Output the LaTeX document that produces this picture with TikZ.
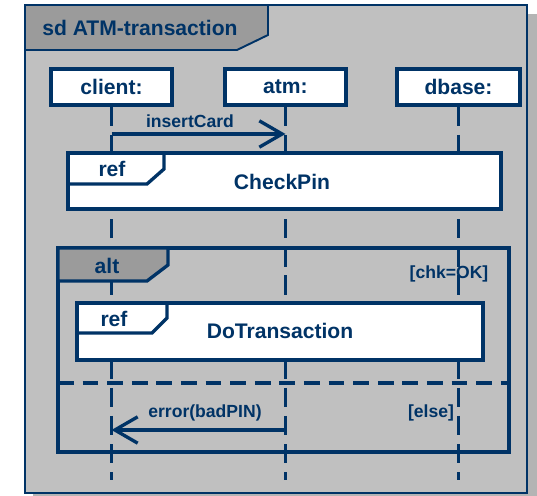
\documentclass[tikz,border=0pt]{standalone}
\usepackage{fontspec}
\setmainfont{Liberation Sans}
\usetikzlibrary{arrows.meta}
\definecolor{umlblue}{RGB}{0,51,102}
\definecolor{framegray}{RGB}{192,192,192}
\definecolor{tabgray}{RGB}{155,155,155}
\definecolor{shadowgray}{RGB}{180,180,180}

\begin{document}
\begin{tikzpicture}[x=0.02cm, y=-0.02cm,
  line/.style={umlblue, line width=1.9pt},
  head/.style={line, draw, fill=white, inner sep=0pt, minimum height=0.72cm,
    text=umlblue, font=\bfseries\fontsize{12}{14}\selectfont},
  lifeline/.style={line, dash pattern=on 11pt off 5pt},
  msg/.style={line, -{Straight Barb[length=13pt, width=15pt]}},
  lbl/.style={text=umlblue, inner sep=0pt, font=\bfseries\fontsize{10}{12}\selectfont},
  big/.style={text=umlblue, inner sep=0pt, font=\bfseries\fontsize{12}{14}\selectfont},
  tab/.style={line, fill=tabgray}]
  \useasboundingbox (0,0) rectangle (537,496);

  % frame with its shadow
  \fill[shadowgray] (33,14) rectangle (537,496);
  \draw[umlblue, line width=1.1pt, fill=framegray] (25,5) rectangle (527,493);
  \draw[umlblue, line width=1.1pt, fill=tabgray] (25,5) -- (268,5) -- (268,35) -- (237,50) -- (25,50) -- cycle;
  \node[big, anchor=west] (title) at (42,28) {sd ATM-transaction};

  % lifelines
  \node[head, minimum width=2.42cm] (client) at (111.5,87) {client:};
  \node[head, minimum width=2.42cm] (atm) at (285.5,87) {atm:};
  \node[head, minimum width=2.46cm] (dbase) at (458.5,87) {dbase:};
  \coordinate (clientend) at (client |- 0,480);
  \coordinate (atmend) at (atm |- 0,480);
  \coordinate (dbaseend) at (dbase |- 0,480);
  \draw[lifeline] (client.south) -- (clientend);
  \draw[lifeline] (atm.south) -- (atmend);
  \draw[lifeline] (dbase.south) -- (dbaseend);

  \draw[msg] (client |- 0,134) -- (atm |- 0,134);
  \node[lbl] (insert) at (190,121) {insertCard};

  % ref CheckPin
  \draw[line, fill=white] (68,153) rectangle (501,209);
  \draw[line] (68,184) -- (147,184) -- (164,169) -- (164,153);
  \node[big] (ref1) at (112,169) {ref};
  \node[big] (checkpin) at (282,182) {CheckPin};

  % alt fragment
  \draw[line] (58,248) rectangle (509,452);
  \draw[tab] (58,248) -- (168,248) -- (168,265) -- (147,281) -- (58,281) -- cycle;
  \node[big] (alt) at (107,266) {alt};
  \node[lbl] (guard1) at (449,274) {[chk=OK]};

  \draw[line, fill=white] (77,303) rectangle (483,360);
  \draw[line] (77,333) -- (152,333) -- (167,318) -- (167,303);
  \node[big] (ref2) at (114,319) {ref};
  \node[big] (dotrans) at (280,331) {DoTransaction};

  \draw[line, dash pattern=on 9pt off 5pt] (58,383) -- (509,383);
  \node[lbl] (guard2) at (431,413) {[else]};

  \draw[msg] (atm |- 0,430) -- (client |- 0,430);
  \node[lbl] (error) at (205,413) {error(badPIN)};
\end{tikzpicture}
\end{document}
